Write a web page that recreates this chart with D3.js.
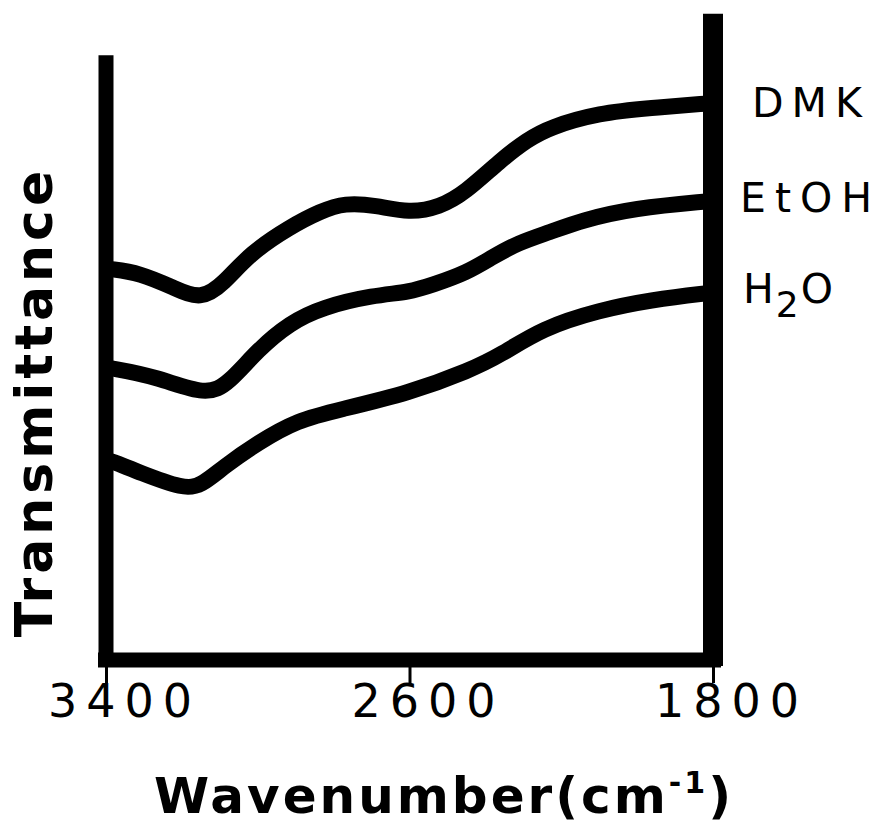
<!DOCTYPE html>
<html>
<head>
<meta charset="utf-8">
<script src="https://cdn.jsdelivr.net/npm/d3@7"></script>
<style>
  body { margin: 0; background: #fff; }
  svg { display: block; font-family: "DejaVu Sans", sans-serif; }
</style>
</head>
<body>
<svg class="chart"></svg>
<script>
// wavenumber (cm-1) and relative transmittance (arbitrary units, 0-100)
var dmkWn = [3400, 3390, 3310, 3220, 3150, 3090, 3020, 2915, 2835, 2770, 2690, 2600, 2520, 2455, 2360, 2290, 2230, 2100, 1965, 1810, 1800];
var dmkT  = [65.2, 65.2, 64.5, 62.0, 60.0, 62.7, 67.8, 72.2, 74.8, 76.2, 75.8, 74.5, 75.5, 77.8, 83.3, 86.7, 88.8, 91.2, 92.0, 92.8, 92.8];

var etohWn = [3400, 3390, 3265, 3135, 3075, 3000, 2915, 2830, 2695, 2600, 2540, 2450, 2380, 2315, 2230, 2145, 2010, 1810, 1800];
var etohT  = [48.7, 48.7, 47.2, 44.0, 46.2, 51.7, 56.2, 58.8, 60.8, 61.3, 62.5, 64.5, 67.2, 69.5, 71.3, 73.3, 75.3, 76.5, 76.5];

var h2oWn = [3400, 3390, 3310, 3195, 3150, 3090, 3000, 2895, 2785, 2600, 2440, 2360, 2250, 2100, 1965, 1810, 1800];
var h2oT  = [33.3, 33.3, 31.2, 28.5, 29.0, 32.2, 36.2, 40.0, 41.7, 44.5, 48.3, 50.8, 55.3, 58.3, 60.0, 61.2, 61.2];

var seriesNames = ["DMK", "EtOH", "H2O"];
var tickValues = [3400, 2600, 1800];

var width = 887, height = 824;

var x = d3.scaleLinear()
    .domain([3400, 1800])
    .range([106, 713]);

var y = d3.scaleLinear()
    .domain([0, 100])
    .range([660, 60]);

var svg = d3.select(".chart")
    .attr("width", width)
    .attr("height", height);

// curves
var series = [
  {name: seriesNames[0], wn: dmkWn, t: dmkT},
  {name: seriesNames[1], wn: etohWn, t: etohT},
  {name: seriesNames[2], wn: h2oWn, t: h2oT}
];

var line = d3.line()
    .x(function (d) { return x(d[0]); })
    .y(function (d) { return y(d[1]); })
    .curve(d3.curveBasis);

svg.append("g")
    .selectAll("path")
    .data(series)
    .enter()
    .append("path")
    .attr("d", function (s) { return line(d3.zip(s.wn, s.t)); })
    .attr("fill", "none")
    .attr("stroke", "#000")
    .attr("stroke-width", 16);

// frame: left and right verticals
svg.append("line")
    .attr("x1", x(3400)).attr("x2", x(3400))
    .attr("y1", y(-1)).attr("y2", y(100.8))
    .attr("stroke", "#000").attr("stroke-width", 15);

svg.append("line")
    .attr("x1", x(1800)).attr("x2", x(1800))
    .attr("y1", y(-1)).attr("y2", y(107.7))
    .attr("stroke", "#000").attr("stroke-width", 20);

// bottom axis
var xAxis = svg.append("g")
    .attr("transform", "translate(0," + y(0) + ")")
    .call(d3.axisBottom(x).tickValues(tickValues).tickSize(23).tickSizeOuter(0).tickFormat(d3.format("d")));

xAxis.select(".domain")
    .attr("stroke-width", 15)
    .attr("d", "M" + (x(3400) - 8) + ",0H" + (x(1800) + 8));

xAxis.selectAll(".tick line").attr("stroke-width", 3);

xAxis.selectAll(".tick text")
    .attr("y", 57)
    .attr("dy", 0)
    .attr("dx", 18)
    .attr("fill", "#000")
    .style("font-family", "DejaVu Sans")
    .style("font-size", "46px")
    .style("letter-spacing", "9px");

// series labels at right
var labelY = [117, 212, 303];
var labelX = [752, 740, 743];

svg.append("text")
    .attr("x", labelX[0]).attr("y", labelY[0])
    .style("font-size", "41px").style("letter-spacing", "8px")
    .text("DMK");

svg.append("text")
    .attr("x", labelX[1]).attr("y", labelY[1])
    .style("font-size", "41px").style("letter-spacing", "9px")
    .text("EtOH");

var h2o = svg.append("text")
    .attr("x", labelX[2]).attr("y", labelY[2])
    .style("font-size", "41px").style("letter-spacing", "2px");
h2o.append("tspan").text("H");
h2o.append("tspan").attr("dy", 14).style("font-size", "36px").text("2");
h2o.append("tspan").attr("dy", -14).text("O");

// axis titles
var xt = svg.append("text")
    .attr("x", 444).attr("y", 813)
    .attr("text-anchor", "middle")
    .style("font-size", "50px").style("font-weight", "bold").style("letter-spacing", "3px");
xt.append("tspan").text("Wavenumber(cm");
xt.append("tspan").attr("dy", -20).style("font-size", "30px").text("-1");
xt.append("tspan").attr("dy", 20).text(")");

svg.append("text")
    .attr("transform", "translate(52,402) rotate(-90)")
    .attr("text-anchor", "middle")
    .style("font-size", "52px").style("font-weight", "bold").style("letter-spacing", "4px")
    .text("Transmittance");
</script>
</body>
</html>
